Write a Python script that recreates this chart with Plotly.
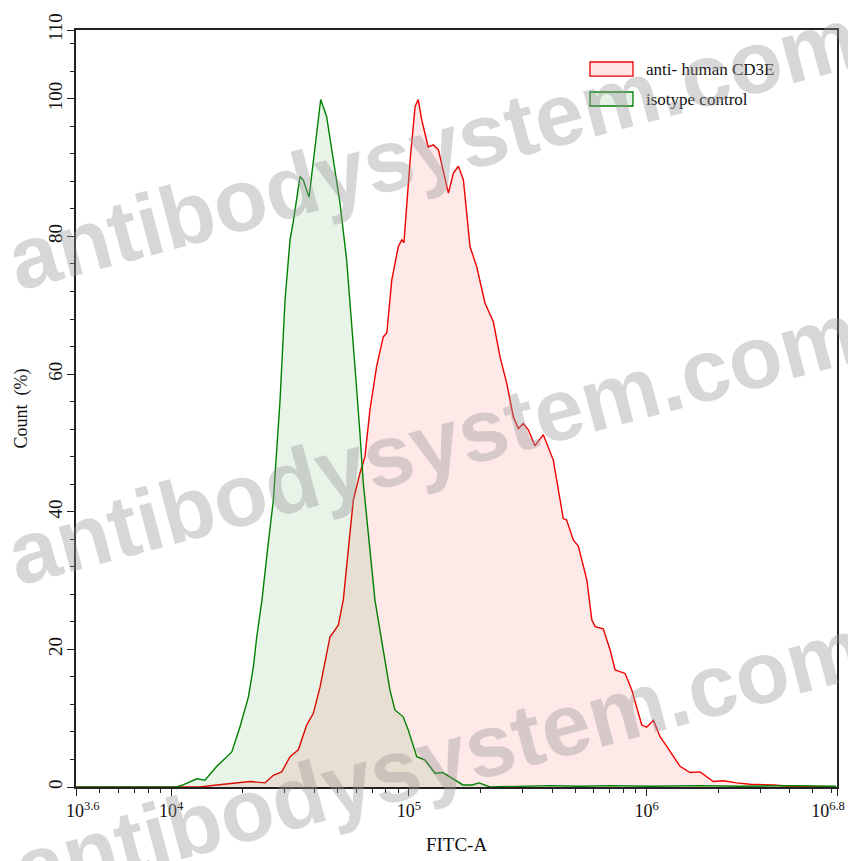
import plotly.graph_objects as go

# ---- data (log10 of FITC-A intensity, and Count %) ----
cd3e_log10 = [3.600, 4.121, 4.192, 4.290, 4.332, 4.395, 4.430, 4.465, 4.500, 4.535, 4.570,
              4.598, 4.626, 4.668, 4.703, 4.724, 4.738, 4.766, 4.794, 4.815, 4.836, 4.864,
              4.892, 4.907, 4.928, 4.955, 4.970, 4.979, 5.005, 5.026, 5.039, 5.054, 5.081,
              5.103, 5.124, 5.166, 5.187, 5.208, 5.229, 5.257, 5.285, 5.320, 5.355, 5.383,
              5.411, 5.439, 5.460, 5.481, 5.502, 5.530, 5.565, 5.607, 5.649, 5.663, 5.691,
              5.712, 5.748, 5.769, 5.783, 5.817, 5.846, 5.867, 5.909, 5.937, 5.979, 6.000,
              6.028, 6.056, 6.084, 6.140, 6.182, 6.224, 6.280, 6.322, 6.378, 6.434, 6.532,
              6.603, 6.796]
cd3e_count = [0.0, 0.0, 0.3, 0.6, 0.8, 0.6, 1.7, 2.2, 4.4, 5.4, 9.0,
              10.7, 14.5, 21.8, 23.5, 27.2, 32.0, 41.7, 45.6, 48.0, 54.8, 61.1,
              65.4, 66.0, 73.7, 78.5, 79.5, 79.1, 91.1, 98.9, 99.9, 96.9, 93.0,
              93.3, 92.6, 86.3, 89.2, 90.2, 88.2, 78.5, 75.6, 70.3, 67.6, 62.5,
              58.7, 53.8, 52.1, 52.8, 51.9, 49.6, 51.2, 47.5, 39.0, 38.8, 35.9,
              35.0, 30.1, 24.3, 23.3, 23.0, 19.9, 17.0, 16.5, 14.1, 9.0, 8.7,
              9.7, 7.3, 5.9, 3.0, 2.1, 2.2, 0.8, 0.9, 0.6, 0.4, 0.3,
              0.1, 0.0]

iso_log10 = [3.600, 4.021, 4.050, 4.079, 4.108, 4.142, 4.192, 4.255, 4.290, 4.325, 4.346,
             4.360, 4.382, 4.407, 4.430, 4.458, 4.479, 4.500, 4.513, 4.542, 4.556, 4.580,
             4.598, 4.629, 4.654, 4.682, 4.710, 4.738, 4.756, 4.773, 4.794, 4.808, 4.829,
             4.857, 4.892, 4.920, 4.941, 4.976, 4.997, 5.033, 5.068, 5.110, 5.143, 5.173,
             5.227, 5.265, 5.295, 5.341, 5.467, 5.593, 5.719, 5.846, 6.014, 6.224, 6.392,
             6.603, 6.796]
iso_count = [0.0, 0.0, 0.3, 0.8, 1.2, 1.0, 3.0, 5.1, 8.8, 13.1, 17.5,
             21.8, 27.2, 35.0, 41.7, 56.2, 70.8, 79.5, 82.0, 88.7, 88.2, 85.7,
             91.1, 99.9, 97.4, 91.1, 84.9, 76.6, 68.0, 61.1, 51.4, 44.2, 36.9,
             27.2, 19.9, 14.1, 11.2, 10.2, 8.3, 4.4, 3.9, 2.0, 2.1, 1.5,
             0.3, 0.3, 0.6, 0.0, 0.1, 0.2, 0.1, 0.2, 0.1, 0.2, 0.1,
             0.2, 0.1]

series_names = ["anti- human CD3E", "isotype control"]
x_tick_exponents = ["3.6", "4", "5", "6", "6.8"]
y_tick_values = [0, 20, 40, 60, 80, 100, 110]
x_title = "FITC-A"
y_title = "Count  (%)"
watermark = "antibodysystem.com"

RED = "rgb(240,0,0)"
GREEN = "rgb(0,128,0)"
RED_FILL = "rgba(255,0,0,0.09)"
GREEN_FILL = "rgba(0,128,0,0.09)"
SERIF = "Liberation Serif, Times New Roman, serif"

fig = go.Figure()
fig.add_trace(go.Scatter(
    x=[10 ** v for v in cd3e_log10], y=cd3e_count, mode="lines",
    line=dict(color=RED, width=1.4), fill="tozeroy", fillcolor=RED_FILL,
    name=series_names[0], showlegend=False, hoverinfo="skip"))
fig.add_trace(go.Scatter(
    x=[10 ** v for v in iso_log10], y=iso_count, mode="lines",
    line=dict(color=GREEN, width=1.4), fill="tozeroy", fillcolor=GREEN_FILL,
    name=series_names[1], showlegend=False, hoverinfo="skip"))

x_tickvals = [10 ** float(e) for e in x_tick_exponents]
x_ticktext = ["10<sup>%s</sup>" % e for e in x_tick_exponents]
# nudge the two end labels inward, as in the reference
x_ticktext[0] = "&nbsp;&nbsp;&nbsp;" + x_ticktext[0]
x_ticktext[-1] = x_ticktext[-1] + "&nbsp;&nbsp;&nbsp;&nbsp;"
x_minor = [d * 10 ** e for e in range(3, 7) for d in range(2, 10)
           if 10 ** 3.6 < d * 10 ** e < 10 ** 6.8]

AX = "#222222"
fig.update_xaxes(
    type="log", range=[3.6, 6.8], tickvals=x_tickvals, ticktext=x_ticktext,
    automargin=False, ticklabeloverflow="allow",
    showgrid=False, zeroline=False, showline=True, linecolor=AX, linewidth=1.5,
    mirror=True, ticks="outside", ticklen=7, tickwidth=1.3, tickcolor=AX,
    tickfont=dict(family=SERIF, size=18, color="#111"),
    minor=dict(tickvals=x_minor, ticks="outside", ticklen=4, tickwidth=1, tickcolor=AX),
    title=dict(text=x_title, font=dict(family=SERIF, size=19, color="#111"), standoff=17),
)
fig.update_yaxes(
    range=[0, 110], tickvals=y_tick_values, ticktext=[str(v) for v in y_tick_values],
    tickangle=-90, automargin=False, ticklabelstandoff=-2,
    showgrid=False, zeroline=False, showline=True, linecolor=AX, linewidth=1.5,
    mirror=True, ticks="outside", ticklen=7, tickwidth=1.3, tickcolor=AX,
    tickfont=dict(family=SERIF, size=19, color="#111"),
    minor=dict(dtick=4, tick0=0, ticks="outside", ticklen=4, tickwidth=1, tickcolor=AX),
    title=dict(text=y_title, font=dict(family=SERIF, size=18, color="#111"), standoff=12),
)

# legend drawn as boxes + labels (paper coordinates)
legend_items = [(series_names[0], RED, "rgba(255,0,0,0.10)", 0.9577, 0.9392),
                (series_names[1], GREEN, "rgba(0,128,0,0.10)", 0.9181, 0.8996)]
shapes = []
annotations = []
for name, lc, fc, y1, y0 in legend_items:
    shapes.append(dict(type="rect", xref="paper", yref="paper", x0=0.6754, x1=0.7319,
                       y0=y0, y1=y1, line=dict(color=lc, width=1.3), fillcolor=fc))
    annotations.append(dict(xref="paper", yref="paper", x=0.7464, y=(y0 + y1) / 2,
                            xanchor="left", yanchor="middle", showarrow=False, text=name,
                            font=dict(family=SERIF, size=17, color="#111")))

# watermark
for wx, wy in [(0.468, 0.844), (0.468, 0.454), (0.478, 0.037)]:
    annotations.append(dict(xref="paper", yref="paper", x=wx, y=wy, text="<b>%s</b>" % watermark,
                            showarrow=False, textangle=-15, xanchor="center", yanchor="middle",
                            font=dict(family="Liberation Sans, Arial, sans-serif", size=88,
                                      color="rgba(150,150,150,0.38)")))

# the page body has an 8px margin, so the figure is sized to fit the 856x861 window
fig.update_layout(
    width=848, height=853,
    margin=dict(l=68, r=19, t=22, b=74),
    paper_bgcolor="white", plot_bgcolor="white",
    shapes=shapes, annotations=annotations, showlegend=False,
)

fig.write_html(
    "out.html",
    post_script="document.documentElement.style.overflow='hidden';"
                "document.body.style.overflow='hidden';",
)
